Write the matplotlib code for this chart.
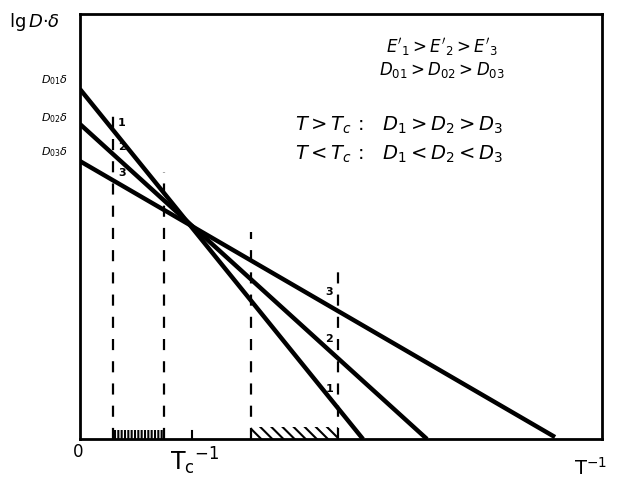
"""
Schemat: lg(D*delta) w funkcji 1/T dla trzech materialow (1, 2, 3).
"""
import numpy as np
import matplotlib.pyplot as plt

# Dane (jednostki umowne)
line_names = ["1", "2", "3"]
intercepts = [3.50, 3.15, 2.78]        # lg D0*delta przy 1/T = 0
x_ends = [2.83, 3.47, 4.75]            # koniec prostej na osi 1/T
y_ends = [0.0, 0.0, 0.02]
y_labels = [r"$D_{01}\delta$", r"$D_{02}\delta$", r"$D_{03}\delta$"]
y_label_pos = [3.60, 3.22, 2.88]       # polozenie etykiet przy osi

dash_x = [0.33, 0.84, 1.71, 2.58]      # pionowe linie przerywane
dash_top = [3.32, 2.67, 2.07, 1.75]
tc_inv = 1.12                          # polozenie Tc^-1

hatch_left = [0.33, 0.84]
hatch_right = [1.71, 2.58]

x_max = 5.22
y_max = 4.25

fig = plt.figure(figsize=(6.2, 4.89), dpi=100)
ax = fig.add_axes([0.129, 0.100, 0.842, 0.869])
ax.set_xlim(0, x_max)
ax.set_ylim(0, y_max)
ax.set_xticks([])
ax.set_yticks([])
for s in ax.spines.values():
    s.set_linewidth(2)

# Proste
for b, xe, ye in zip(intercepts, x_ends, y_ends):
    ax.plot([0, xe], [b, ye], color="black", lw=3.2, solid_capstyle="butt")

# Linie przerywane
for xd, top in zip(dash_x, dash_top):
    ax.plot([xd, xd], [0, top], color="black", lw=1.6, ls=(0, (5, 5)))

# Kreskowanie przy osi
plt.rcParams["hatch.linewidth"] = 1.5
ax.fill_between(hatch_left, 0, 0.09, facecolor="none", edgecolor="black",
                hatch="|||||", linewidth=0)
ax.fill_between(hatch_right, 0, 0.12, facecolor="none", edgecolor="black",
                hatch="\\\\\\", linewidth=0)
ax.plot([tc_inv, tc_inv], [0, 0.08], color="black", lw=1.5)


def line_y(i, x):
    slope = (y_ends[i] - intercepts[i]) / x_ends[i]
    return intercepts[i] + slope * x


# Oznaczenia prostych przy lewej i prawej linii przerywanej
for i, name in enumerate(line_names):
    ax.text(dash_x[0] + 0.05, line_y(i, dash_x[0]) + 0.08, name,
            fontsize=8, fontweight="bold", ha="left", va="center")
    ax.text(dash_x[3] - 0.05, line_y(i, dash_x[3]) + 0.2, name,
            fontsize=8, fontweight="bold", ha="right", va="center")

# Etykiety na osi pionowej
for yp, lab in zip(y_label_pos, y_labels):
    ax.text(-0.12, yp, lab, fontsize=8, ha="right", va="center", clip_on=False)

fig.text(0.015, 0.955, r"lg$\,D{\cdot}\delta$", fontsize=13, ha="left", va="center")
fig.text(0.126, 0.075, "0", fontsize=12, ha="center", va="center")
ax.text(tc_inv + 0.03, -0.06, r"$\mathrm{T_c}^{-1}$", fontsize=17,
        ha="center", va="top")
fig.text(0.952, 0.02, r"$\mathrm{T}^{-1}$", fontsize=14, ha="center", va="bottom")

ax.text(3.62, 3.93, r"$E'_1 > E'_2 > E'_3$", fontsize=12, ha="center", va="center")
ax.text(3.62, 3.70, r"$D_{01} > D_{02} > D_{03}$", fontsize=12, ha="center", va="center")
ax.text(2.15, 3.15, r"$T > T_c$ :   $D_1 > D_2 > D_3$", fontsize=14,
        ha="left", va="center")
ax.text(2.15, 2.86, r"$T < T_c$ :   $D_1 < D_2 < D_3$", fontsize=14,
        ha="left", va="center")

fig.savefig("out.png", dpi=100)
